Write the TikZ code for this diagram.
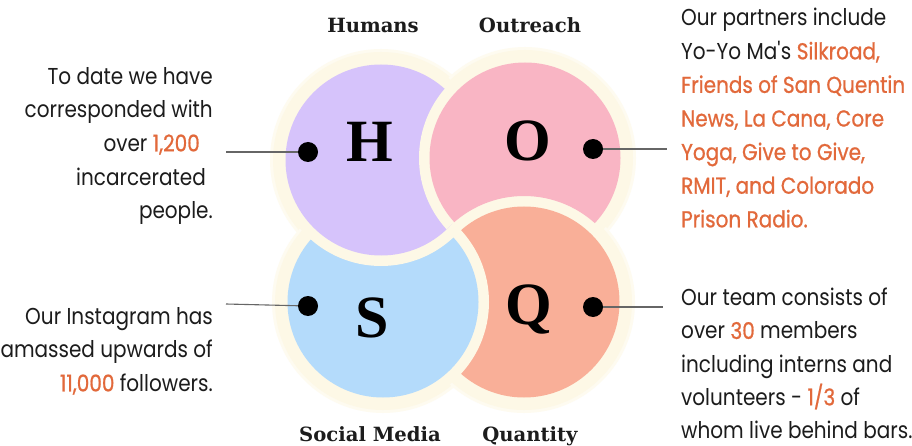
\documentclass[tikz,border=0pt]{standalone}
\usepackage{fontspec}
\setmainfont{Poppins}[FakeStretch=0.87]
\newfontfamily\orfont{Poppins}[FakeStretch=0.87,FakeBold=0.8]
\newfontfamily\bigserif{Liberation Serif}
\newfontfamily\labserif{DejaVu Serif}
\definecolor{creamc}{HTML}{FDF8E6}
\definecolor{purplec}{HTML}{D6C3FB}
\definecolor{pinkc}{HTML}{F9B5C4}
\definecolor{bluec}{HTML}{B4DBFB}
\definecolor{salmonc}{HTML}{F9AF98}
\definecolor{orangeT}{HTML}{E2693B}
\definecolor{textc}{HTML}{1C1C1C}
\definecolor{linec}{HTML}{666666}
\newcommand\orn[1]{{\color{orangeT}\orfont #1}}
\begin{document}
\begin{tikzpicture}[x=1pt,y=-1pt,
  txt/.style={font=\fontsize{23}{33.6}\selectfont, text=textc, inner sep=0pt},
  bigl/.style={font=\bigserif\bfseries\fontsize{60}{60}\selectfont, text=black, inner sep=0pt},
  lab/.style={font=\labserif\bfseries\fontsize{19.6}{24}\selectfont, text=textc, inner sep=0pt},
  dotn/.style={circle, fill=black, minimum size=20pt, inner sep=0pt},
  conn/.style={draw=linec, line width=1.1pt}]
\useasboundingbox (0,0) rectangle (912,446);
\fill[white] (0,0) rectangle (912,446);
% circle centres
\coordinate (cH) at (381,160);
\coordinate (cO) at (525,158);
\coordinate (cS) at (383,302);
\coordinate (cQ) at (524,302);
\def\rr{95.5pt}
\def\rc{106pt}
\def\ro{108pt}
% outer cream halo
\foreach \c in {cH,cO,cS,cQ} {
  \fill[creamc!60] (\c) circle[radius=111pt];
  \fill[creamc] (\c) circle[radius=\ro];
}
% Q
\fill[creamc] (cQ) circle[radius=\rc];
\fill[salmonc] (cQ) circle[radius=\rr];
% S over Q
\fill[creamc] (cS) circle[radius=\rc];
\fill[bluec] (cS) circle[radius=\rr];
% H over S
\fill[creamc] (cH) circle[radius=\rc];
\fill[purplec] (cH) circle[radius=\rr];
% O over H, but under Q
\begin{scope}
  \clip (cO) circle[radius=\rc];
  \fill[creamc, even odd rule] (-20,-20) rectangle (930,470) (cQ) circle[radius=\rc];
\end{scope}
\begin{scope}
  \clip (cO) circle[radius=\rr];
  \fill[pinkc, even odd rule] (-20,-20) rectangle (930,470) (cQ) circle[radius=\rc];
\end{scope}
% big letters
\node[bigl, anchor=base] (H) at (370,162) {H};
\node[bigl, anchor=base] (O) at (528,161) {O};
\node[bigl, anchor=base] (S) at (372,337) {S};
\node[bigl, anchor=base] (Q) at (529,324) {Q};
% labels
\node[lab, anchor=base] (lHum) at (373,33) {Humans};
\node[lab, anchor=base] (lOut) at (530,33) {Outreach};
\node[lab, anchor=base] (lSoc) at (370,441) {Social Media};
\node[lab, anchor=base] (lQua) at (530,441) {Quantity};
% dots
\node[dotn] (dH) at (308,152) {};
\node[dotn] (dS) at (308,306) {};
\node[dotn] (dO) at (593,149) {};
\node[dotn] (dQ) at (593,307) {};
% text blocks
\node[txt, anchor=north east, align=right] (tH) at (213,67)
  {To date we have\\corresponded with\\over \orn{1,200}\rule{13pt}{0pt}\\incarcerated\rule{7pt}{0pt}\\people.};
\node[txt, anchor=north west, align=left] (tO) at (681,8)
  {Our partners include\\Yo-Yo Ma\textquotesingle s \orn{Silkroad,}\\\orn{Friends of San Quentin}\\\orn{News, La Cana, Core}\\\orn{Yoga, Give to Give,}\\\orn{RMIT, and Colorado}\\\orn{Prison Radio.}};
\node[txt, anchor=north west, align=left, font=\fontsize{23}{33.2}\selectfont] (tQ) at (681,288)
  {Our team consists of\\over \orn{30} members\\including interns and\\volunteers - \orn{1/3} of\\whom live behind bars.};
\node[txt, anchor=north east, align=right] (tS) at (213,307)
  {Our Instagram has\\amassed upwards of\\\orn{11,000} followers.};
% connectors
\coordinate (eH) at (226,152);
\coordinate (eS) at (226,304);
\coordinate (eO) at (667,149);
\coordinate (eQ) at (663,307);
\draw[conn] (eH) -- (dH);
\draw[conn] (eS) -- (dS);
\draw[conn] (dO) -- (eO);
\draw[conn] (dQ) -- (eQ);
\end{tikzpicture}
\end{document}
